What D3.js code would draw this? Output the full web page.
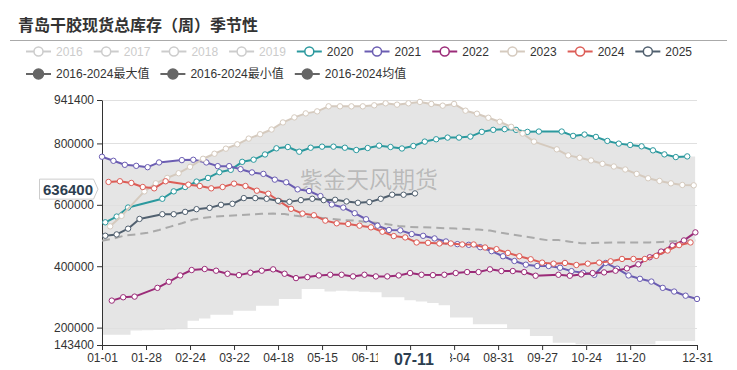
<!DOCTYPE html>
<html>
<head>
<meta charset="utf-8">
<script src="https://cdn.jsdelivr.net/npm/d3@7"></script>
<style>
	body { margin: 0; background: #fff; }
	svg { font-family: "Liberation Sans", "Noto Sans CJK SC", sans-serif; display: block; }
</style>
</head>
<body>
<svg id="chart" width="737" height="370"></svg>
<script>
// ________ Data ________
const title = '青岛干胶现货总库存（周）季节性';
const legendYears = ['2016', '2017', '2018', '2019', '2020', '2021', '2022', '2023', '2024', '2025'];
const activeYears = ['2020', '2021', '2022', '2023', '2024', '2025'];
const bandNames = ['2016-2024最大值', '2016-2024最小值', '2016-2024均值'];
const yTicks = [143400, 200000, 400000, 600000, 800000, 941400];
const pointerDate = '07-11';
const pointerValue = 636400;
const watermark = '紫金天风期货';

// weekly (friday) values per year, null = no report that week
const v2020 = [543000, 561700, 591200, null, null, 619700, 643800, 658000, 675600, 687600, 706200, 714000, 740000, 747000,
	764000, 784000, 788300, 773000, 786000, 789400, 789400, 786000, 778500, 785000, 792700, 788300, 783500, 791600, 805900,
	813500, 819000, 819000, 822300, 837600, 844200, 846400, 844200, 837600, 838700, null, 838700, 824500, 828900, 821200,
	808000, 799300, 795000, 790500, 777400, 764300, 755500, 757700];
const v2021 = [756600, 743400, 730300, 727000, 722600, 738000, null, 745600, 746700, 738000, 726000, 726000, 716000, 705500,
	700700, 682000, 673400, 650400, 645000, 628500, 601000, 591000, 572600, 553000, 532000, 518000, 516800, 504700, 499000,
	490500, 480600, 472000, 469700, 462000, 449000, 432500, 417000, 405000, 400700, 400700, 395000, 384000, 378800, 372000,
	410600, 392000, 370000, 359000, 350000, 329500, 317500, 304000, 293400];
const v2022 = [288000, 298900, 301000, null, 329500, 349300, 370000, 387600, 390900, 385400, 375500, 371000, 378800, 385400,
	389800, 375500, 361300, 364600, 370000, 372200, 372200, 366800, 372200, 366800, 366800, 370000, 377700, 372200, 371000,
	372200, 377700, 381000, 381000, 389800, 384300, 384300, 381000, 369000, null, 372200, 369000, 373300, 377700, 379900,
	385400, 393000, 406200, 429200, 447800, 467500, 484000, 510200];
const v2023 = [529900, 563900, null, 643800, 670100, 687600, 702900, 723700, 750000, 766400, 782900, 797100, 815700, 830000,
	845300, 868300, 884700, 897800, 904400, 920800, 920800, 920800, 920800, 924100, 930700, 926300, 930700, 935000, 928500,
	923000, 928500, 906600, 896700, 883600, 870500, 854000, 832100, 805900, null, 780700, 761000, 753300, 744500, 733600,
	724800, 715000, 700700, 686500, 677700, 670000, 664600, 663500];
const v2024 = [674500, 676700, 671200, 658000, 653700, 676700, null, 665700, 661300, 653700, 658000, 669000, 661300, 646000,
	636100, 611000, 586900, 571500, 566000, 548500, 539800, 537600, 532100, 526600, 512400, 498200, 493800, 477400, 476300,
	474100, 474100, 470800, 470800, 461000, 455500, 443400, 432500, 422600, 411700, 408400, 410600, 404000, 408400, 411700,
	416000, 423700, 423700, 423700, 433600, 451100, 468600, 477400];
const v2025 = [499300, 503600, 522300, 554000, null, 569300, 569300, 577000, 585800, 590100, 600000, 603300, 621900, 621900,
	619700, 613100, 609900, 615300, 619700, 615300, 616400, 611000, 606600, 608800, 619700, 632900, 632900, 637200];

// 2016-2024 band, one value every 7 days from 01-01
const bandMax = [756600, 743400, 730300, 727000, 722600, 738000, 741800, 745600, 746700, 752000, 768700, 784900, 799700,
	817700, 832200, 848600, 870600, 886600, 898700, 906700, 920800, 920800, 920800, 921300, 925000, 930000, 927000, 931300,
	934100, 927700, 923800, 925500, 905200, 895000, 881700, 868100, 851000, 839500, 838400, 838700, 838700, 828500, 827600,
	823400, 813700, 801800, 796200, 791800, 781100, 768000, 758000, 757100, 757700];
const bandMin = [176400, 176400, 176400, 190500, 191500, 192500, 193500, 194800, 222300, 229900, 242000, 242000, 255200,
	255200, 271600, 271600, 293300, 293300, 326100, 326100, 317600, 320000, 318500, 317000, 315300, 298900, 298900, 289000,
	285000, 280000, 272600, 233200, 233200, 211200, 211200, 211200, 194800, 194800, 173100, 173100, 151100, 151100, 145500,
	145500, 145500, 145500, 145500, 145500, 145500, 156600, 156600, 156600, 156600];
const bandMean = [482800, 490000, 500000, 503600, 509000, 518000, 529000, 540000, 552000, 558000, 562000, 564500, 566500,
	568500, 570500, 571500, 570000, 564000, 560500, 558600, 554800, 550700, 548800, 545000, 541500, 537000, 531000, 528000,
	527000, 525500, 524000, 522500, 521000, 519500, 516000, 509000, 503000, 497500, 491000, 485000, 485000, 480000, 475000,
	475500, 476500, 477400, 477400, 477400, 477500, 479000, 481000, 482800, 484000];

const seriesValues = { '2020': v2020, '2021': v2021, '2022': v2022, '2023': v2023, '2024': v2024, '2025': v2025 };
const colors = {
	'2020': '#2b999e', '2021': '#6b5db2', '2022': '#9b2b78',
	'2023': '#d5cabe', '2024': '#dc5d57', '2025': '#51606f'
};

// ________ Scales ________
const fmt = d3.utcFormat('%m-%d');
// category axis = every day of a leap year
const categories = d3.utcDays(new Date(Date.UTC(2024, 0, 1)), new Date(Date.UTC(2025, 0, 1))).map(fmt);

function fridays(year) {
	const out = [];
	const d = new Date(Date.UTC(year, 0, 1));
	while (d.getUTCDay() !== 5) d.setUTCDate(d.getUTCDate() + 1);
	while (d.getUTCFullYear() === year) {
		out.push(fmt(d));
		d.setUTCDate(d.getUTCDate() + 7);
	}
	return out;
}

const plot = { left: 102, right: 697, top: 100, bottom: 345 };
const x = d3.scalePoint().domain(categories).range([plot.left, plot.right]);
const y = d3.scaleLinear().domain([yTicks[0], yTicks[yTicks.length - 1]]).range([plot.bottom, plot.top]);

const svg = d3.select('#chart');

// ________ Title ________
svg.append('text')
	.attr('x', 18).attr('y', 25)
	.attr('dominant-baseline', 'central')
	.style('font-size', '16px').style('font-weight', 'bold').style('fill', '#333')
	.text(title);
svg.append('line')
	.attr('x1', 10).attr('x2', 727).attr('y1', 40.5).attr('y2', 40.5)
	.style('stroke', '#aaa');

// ________ Legend ________
function legendRow(items, yPos) {
	let cx = 26;
	items.forEach(item => {
		const g = svg.append('g').attr('transform', `translate(${cx},${yPos})`);
		g.append('line').attr('x1', 0).attr('x2', 25)
			.style('stroke', item.color).style('stroke-width', 2);
		g.append('circle').attr('cx', 12.5).attr('r', item.filled ? 5 : 4.5)
			.style('fill', item.filled ? item.color : '#fff')
			.style('stroke', item.color).style('stroke-width', 1.5);
		const t = g.append('text').attr('x', 30)
			.attr('dominant-baseline', 'central')
			.style('font-size', '12px').style('fill', item.textColor)
			.text(item.name);
		cx += 30 + t.node().getComputedTextLength() + 11;
	});
}
legendRow(legendYears.map(yr => {
	const on = activeYears.includes(yr);
	return { name: yr, color: on ? colors[yr] : '#ccc', textColor: on ? '#333' : '#ccc' };
}), 51.5);
legendRow(bandNames.map(n => ({ name: n, color: '#666', textColor: '#333', filled: true })), 74);

// ________ Band ________
const bandPts = bandMax.map((v, i) => ({ c: categories[i * 7], max: v, min: bandMin[i], mean: bandMean[i] }));

svg.append('clipPath').attr('id', 'above-min')
	.append('path')
	.attr('d', d3.area()
		.curve(d3.curveStep)
		.x(d => x(d.c))
		.y0(0)
		.y1(d => y(d.min))(bandPts));

svg.append('path')
	.attr('clip-path', 'url(#above-min)')
	.attr('d', d3.area()
		.x(d => x(d.c))
		.y0(plot.bottom)
		.y1(d => y(d.max))(bandPts))
	.style('fill', '#e5e5e5');

// ________ Grid + axes ________
svg.append('g').selectAll('line')
	.data(yTicks.slice(1))
	.enter().append('line')
	.attr('x1', plot.left).attr('x2', plot.right)
	.attr('y1', d => Math.round(y(d)) + 0.5).attr('y2', d => Math.round(y(d)) + 0.5)
	.style('stroke', '#e0e0e0');

const yAxis = svg.append('g')
	.attr('transform', `translate(${plot.left},0)`)
	.call(d3.axisLeft(y).tickValues(yTicks).tickSize(5).tickSizeOuter(0).tickFormat(d3.format('d')));

const tickCats = categories.filter((c, i) => (i % 27 === 0 && i <= 324) || i === categories.length - 1);
const xAxis = svg.append('g')
	.attr('transform', `translate(0,${plot.bottom})`)
	.call(d3.axisBottom(x).tickValues(tickCats).tickSize(5).tickSizeOuter(0));

[xAxis, yAxis].forEach(ax => {
	ax.select('.domain').style('stroke', '#333');
	ax.selectAll('.tick line').style('stroke', '#333');
	ax.selectAll('text').style('font-size', '12px').style('fill', '#333')
		.style('font-family', '"Liberation Sans", sans-serif');
});
// the label under the pointer box is hidden, as in the original
const px = x(pointerDate);
xAxis.selectAll('.tick text').filter(d => Math.abs(x(d) - px) < 20).remove();

// watermark
svg.append('text')
	.attr('x', 300).attr('y', 178)
	.attr('dominant-baseline', 'central')
	.style('font-size', '23px').style('fill', 'rgba(0,0,0,0.2)')
	.style('font-family', '"Noto Sans CJK SC", sans-serif')
	.text(watermark);

// mean
svg.append('path')
	.attr('d', d3.line().x(d => x(d.c)).y(d => y(d.mean))(bandPts))
	.style('fill', 'none').style('stroke', '#aaa')
	.style('stroke-width', 2).style('stroke-dasharray', '8,5');

// ________ Year lines ________
activeYears.forEach(yr => {
	const dates = fridays(+yr);
	const pts = seriesValues[yr]
		.map((v, i) => ({ c: dates[i], v }))
		.filter(d => d.v != null);
	const g = svg.append('g').attr('class', 'year-' + yr);
	g.append('path')
		.attr('d', d3.line().x(d => x(d.c)).y(d => y(d.v))(pts))
		.style('fill', 'none').style('stroke', colors[yr])
		.style('stroke-width', 2).style('stroke-linejoin', 'round');
	g.selectAll('circle')
		.data(pts)
		.enter().append('circle')
		.attr('cx', d => x(d.c)).attr('cy', d => y(d.v))
		.attr('r', 2.7)
		.style('fill', '#fff').style('stroke', colors[yr]).style('stroke-width', 1);
});

// ________ Axis pointer labels ________
svg.append('rect')
	.attr('x', px - 37).attr('y', plot.bottom + 5)
	.attr('width', 72).attr('height', 20)
	.style('fill', '#fff');
svg.append('text')
	.attr('x', px - 1).attr('y', plot.bottom + 14)
	.attr('text-anchor', 'middle').attr('dominant-baseline', 'central')
	.style('font-size', '16px').style('font-weight', 'bold').style('fill', '#2c3e50')
	.text(pointerDate);

const py = y(pointerValue) - 4.5;
svg.append('path')
	.attr('d', `M39.5,${py - 10}H93.5L98,${py}L93.5,${py + 10}H39.5Z`)
	.style('fill', '#fff').style('stroke', '#ccc');
svg.append('text')
	.attr('x', 68).attr('y', py)
	.attr('text-anchor', 'middle').attr('dominant-baseline', 'central')
	.style('font-size', '15px').style('font-weight', 'bold').style('fill', '#2c3e50')
	.text(d3.format('d')(pointerValue));
</script>
</body>
</html>
